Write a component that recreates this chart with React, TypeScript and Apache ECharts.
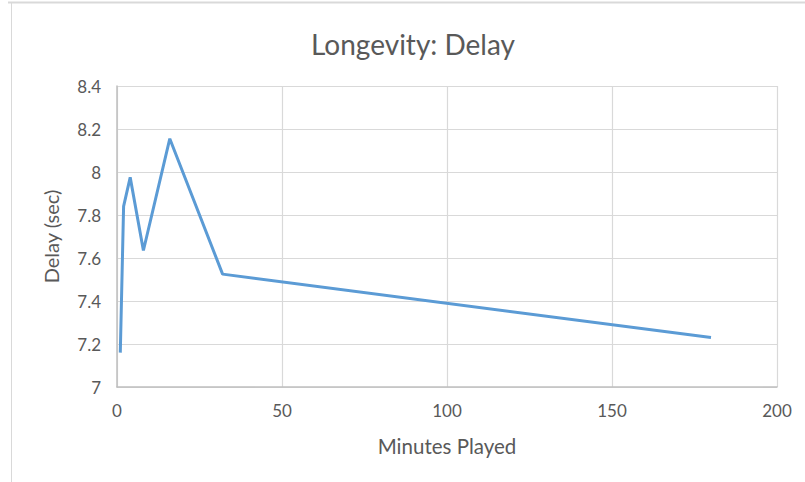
import React, { useEffect, useRef } from "react";
import * as echarts from "echarts";

const minutesPlayed = [1, 2, 4, 8, 16, 32, 180];
const delaySec = [7.16, 7.84, 7.975, 7.635, 8.155, 7.525, 7.23];
const titleText = "Longevity: Delay";
const xAxisName = "Minutes Played";
const yAxisName = "Delay (sec)";

export default function App() {
  const ref = useRef<HTMLDivElement>(null);
  useEffect(() => {
    if (!ref.current) return;
    const chart = echarts.init(ref.current, null, { renderer: "svg" });
    const font = "Lato, 'Open Sans', sans-serif";
    chart.setOption({
      animation: false,
      backgroundColor: "#ffffff",
      textStyle: { fontFamily: font },
      title: {
        text: titleText,
        left: 408,
        textAlign: "center",
        top: 25,
        textStyle: { fontFamily: font, fontSize: 28, fontWeight: "normal", color: "#595959" },
      },
      graphic: [
        { type: "line", shape: { x1: 8, y1: 2.5, x2: 805, y2: 2.5 }, style: { stroke: "#d9d9d9", lineWidth: 2 } },
        { type: "line", shape: { x1: 11.5, y1: 2, x2: 11.5, y2: 482 }, style: { stroke: "#d9d9d9", lineWidth: 1 } },
      ],
      grid: { left: 117, right: 28, top: 86, bottom: 95 },
      xAxis: {
        type: "value",
        min: 0,
        max: 200,
        interval: 50,
        name: xAxisName,
        nameLocation: "middle",
        nameGap: 48,
        nameTextStyle: { fontFamily: font, fontSize: 20.5, color: "#595959" },
        axisLine: { show: true, lineStyle: { color: "#bfbfbf", width: 1.5 } },
        axisTick: { show: false },
        axisLabel: { fontFamily: font, fontSize: 17, color: "#595959", margin: 15 },
        splitLine: { show: true, lineStyle: { color: "#d9d9d9", width: 1.2 } },
      },
      yAxis: {
        type: "value",
        min: 7,
        max: 8.4,
        interval: 0.2,
        name: yAxisName,
        nameLocation: "middle",
        nameGap: 56,
        nameTextStyle: { fontFamily: font, fontSize: 20, color: "#595959" },
        axisLine: { show: true, lineStyle: { color: "#bfbfbf", width: 1.5 } },
        axisTick: { show: false },
        axisLabel: {
          fontFamily: font,
          fontSize: 17,
          color: "#595959",
          margin: 16,
          formatter: (v: number) => String(Math.round(v * 10) / 10),
        },
        splitLine: { show: true, lineStyle: { color: "#d9d9d9", width: 1.2 } },
      },
      series: [
        {
          type: "line",
          data: minutesPlayed.map((x, i) => [x, delaySec[i]]),
          showSymbol: false,
          lineStyle: { color: "#5b9bd5", width: 3 },
          itemStyle: { color: "#5b9bd5" },
        },
      ],
    });
    return () => chart.dispose();
  }, []);
  return (
    <div
      ref={ref}
      style={{ position: "fixed", left: 0, top: 0, width: 805, height: 482 }}
    />
  );
}
